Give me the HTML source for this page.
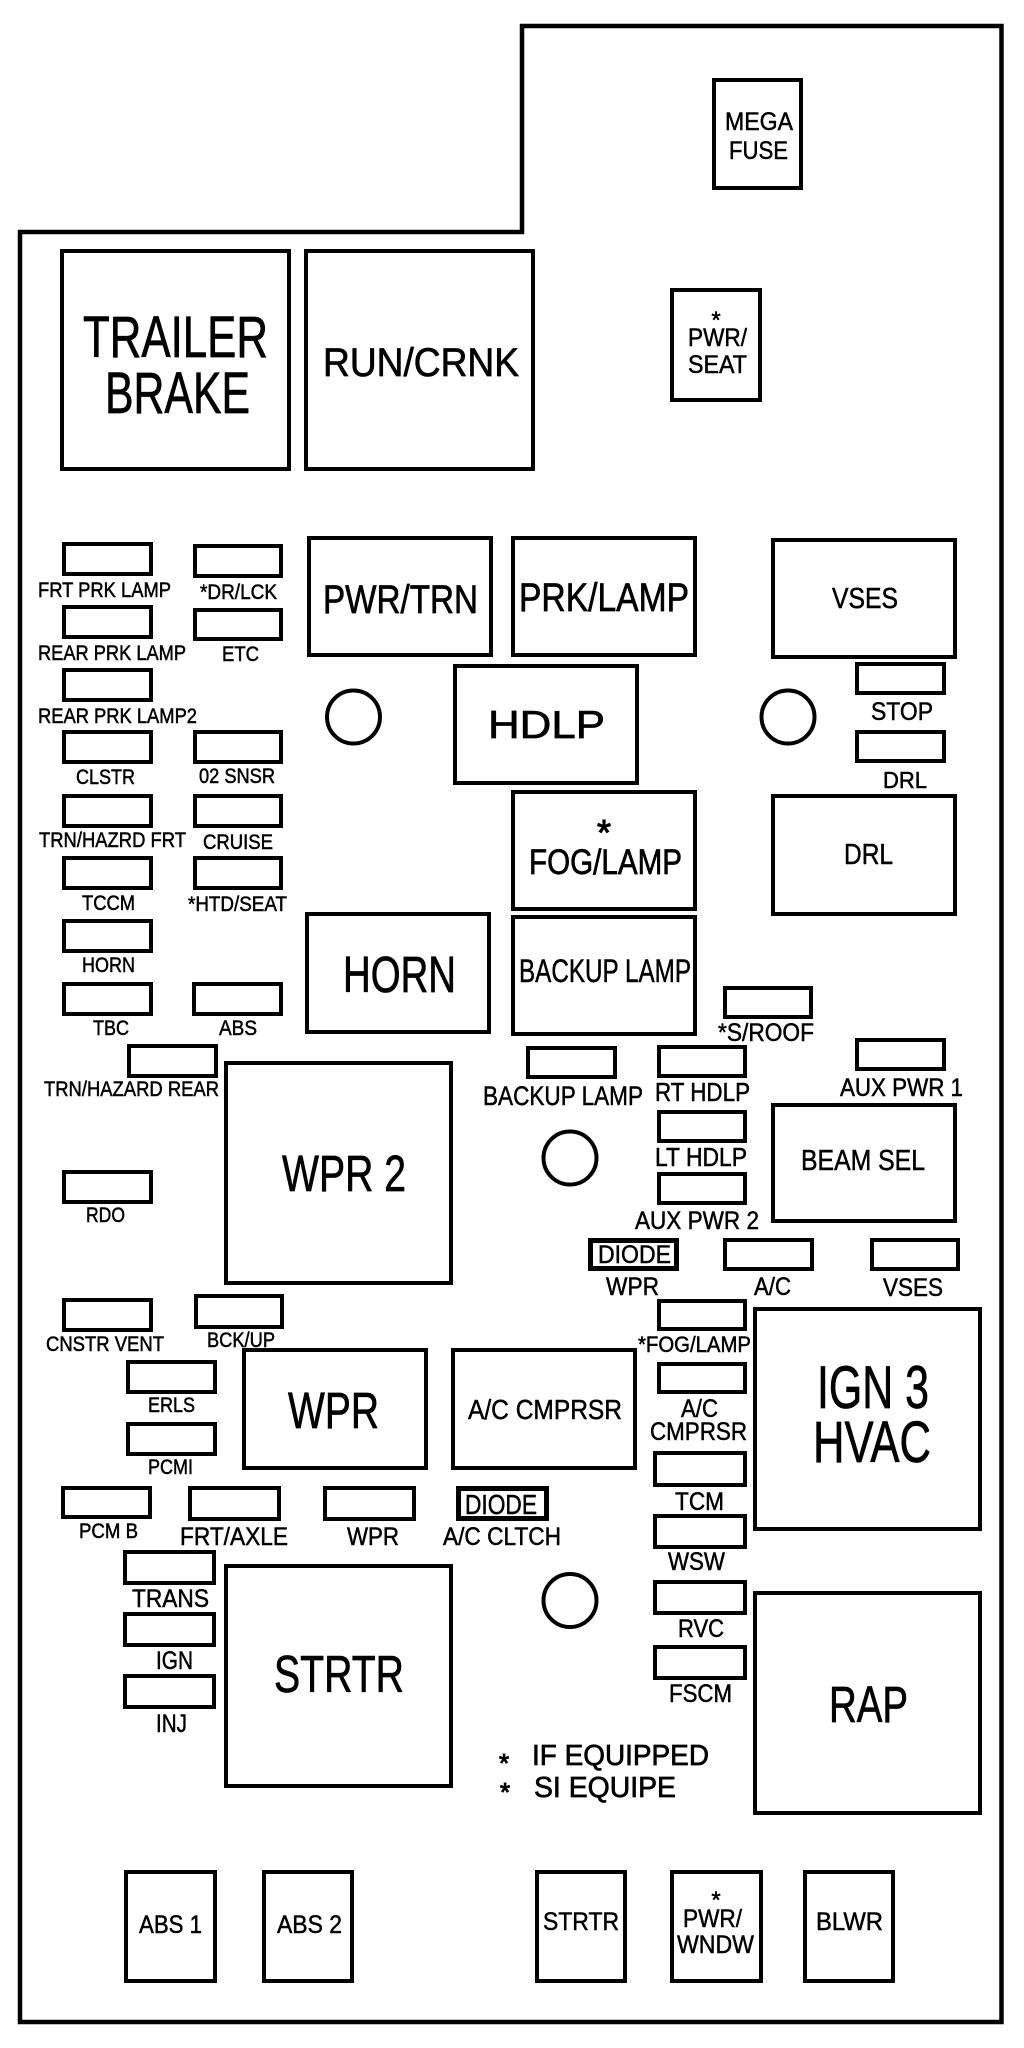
<!DOCTYPE html>
<html><head><meta charset="utf-8"><title>Fuse block</title>
<style>
html,body{margin:0;padding:0;background:#fff}
svg{display:block}
text{font-family:"Liberation Sans",sans-serif;fill:#000;stroke:#000;stroke-width:.7px}
rect,circle,path{fill:none;stroke:#000;stroke-width:4}
.s text{stroke-width:.5px}
text.a{stroke-width:1px}
.d{stroke-width:5}
</style></head><body>
<svg width="1024" height="2048" viewBox="0 0 1024 2048" xmlns="http://www.w3.org/2000/svg">
<path d="M20 232H522V26H1001.5V2022H20Z" style="stroke-width:4.5"/>
<circle cx="353.5" cy="717" r="26.5"/><circle cx="788" cy="717" r="26.5"/><circle cx="570" cy="1158" r="26.5"/><circle cx="570" cy="1600.5" r="26.5"/>
<!-- relays -->
<rect x="62" y="251" width="227" height="218"/><rect x="306" y="251" width="227" height="218"/>
<rect x="714" y="80" width="87" height="108"/><rect x="672" y="290" width="88" height="110"/>
<rect x="309" y="538" width="182" height="117"/><rect x="513" y="538" width="182" height="117"/><rect x="773" y="540" width="182" height="117"/>
<rect x="455" y="666" width="182" height="117"/><rect x="513" y="792" width="182" height="117"/><rect x="773" y="796" width="182" height="118"/>
<rect x="307" y="914" width="182" height="118"/><rect x="513" y="917" width="182" height="117"/>
<rect x="226" y="1063" width="225" height="220"/><rect x="773" y="1105" width="182" height="116"/>
<rect x="244" y="1350" width="182" height="118"/><rect x="453" y="1350" width="182" height="118"/>
<rect x="755" y="1309" width="225" height="220"/><rect x="226" y="1566" width="225" height="220"/><rect x="755" y="1593" width="225" height="220"/>
<rect x="126" y="1872" width="89" height="109"/><rect x="264" y="1872" width="88" height="109"/><rect x="537" y="1872" width="88" height="109"/><rect x="672" y="1872" width="89" height="109"/><rect x="805" y="1872" width="88" height="109"/>
<!-- fuses left -->
<rect x="64" y="544" width="87" height="30"/><rect x="195" y="546" width="86" height="30"/>
<rect x="64" y="607" width="87" height="30"/><rect x="195" y="610" width="86" height="29"/>
<rect x="64" y="670" width="87" height="30"/>
<rect x="64" y="732" width="87" height="30"/><rect x="195" y="732" width="86" height="30"/>
<rect x="64" y="796" width="87" height="30"/><rect x="195" y="796" width="86" height="30"/>
<rect x="64" y="858" width="87" height="30"/><rect x="195" y="858" width="86" height="30"/>
<rect x="64" y="921" width="87" height="30"/>
<rect x="64" y="984" width="87" height="30"/><rect x="194" y="984" width="87" height="30"/>
<rect x="129" y="1046" width="87" height="30"/><rect x="64" y="1172" width="87" height="30"/>
<rect x="64" y="1300" width="87" height="30"/><rect x="196" y="1296" width="86" height="31"/>
<rect x="128" y="1362" width="87" height="30"/><rect x="128" y="1424" width="87" height="30"/>
<rect x="63" y="1488" width="87" height="29"/><rect x="190" y="1488" width="89" height="31"/><rect x="325" y="1488" width="89" height="31"/>
<rect class="d" x="458.5" y="1488.5" width="88" height="30"/>
<rect x="125" y="1552" width="89" height="31"/><rect x="125" y="1614" width="89" height="31"/><rect x="125" y="1676" width="89" height="31"/>
<!-- fuses right -->
<rect x="857" y="664" width="87" height="29"/><rect x="857" y="732" width="87" height="29"/>
<rect x="725" y="988" width="86" height="29"/><rect x="857" y="1040" width="87" height="29"/>
<rect x="528" y="1048" width="87" height="29"/><rect x="659" y="1047" width="86" height="29"/>
<rect x="659" y="1112" width="86" height="29"/><rect x="659" y="1174" width="86" height="29"/>
<rect class="d" x="590.5" y="1240.5" width="86" height="28"/>
<rect x="725" y="1240" width="87" height="29"/><rect x="872" y="1240" width="86" height="29"/>
<rect x="659" y="1301" width="86" height="28"/><rect x="659" y="1364" width="86" height="28"/>
<rect x="655" y="1453" width="90" height="32"/><rect x="655" y="1516" width="90" height="31"/><rect x="655" y="1582" width="90" height="31"/><rect x="655" y="1647" width="90" height="31"/>
<!-- relay labels -->
<text x="83" y="357" font-size="58" textLength="185" lengthAdjust="spacingAndGlyphs">TRAILER</text>
<text x="105" y="413" font-size="58" textLength="145" lengthAdjust="spacingAndGlyphs">BRAKE</text>
<text x="323" y="376" font-size="40" textLength="196" lengthAdjust="spacingAndGlyphs">RUN/CRNK</text>
<text x="323" y="613" font-size="40" textLength="155" lengthAdjust="spacingAndGlyphs">PWR/TRN</text>
<text x="519" y="611" font-size="40" textLength="170" lengthAdjust="spacingAndGlyphs">PRK/LAMP</text>
<text x="488" y="738" font-size="39" textLength="117" lengthAdjust="spacingAndGlyphs">HDLP</text>
<text class="a" x="604" y="845" font-size="36" text-anchor="middle">*</text>
<text x="529" y="874" font-size="35" textLength="153" lengthAdjust="spacingAndGlyphs">FOG/LAMP</text>
<text x="343" y="992" font-size="51" textLength="113" lengthAdjust="spacingAndGlyphs">HORN</text>
<text x="282" y="1191" font-size="51" textLength="124" lengthAdjust="spacingAndGlyphs">WPR 2</text>
<text x="288" y="1428" font-size="51" textLength="91" lengthAdjust="spacingAndGlyphs">WPR</text>
<text x="817" y="1408" font-size="60" textLength="112" lengthAdjust="spacingAndGlyphs">IGN 3</text>
<text x="813" y="1462" font-size="58" textLength="118" lengthAdjust="spacingAndGlyphs">HVAC</text>
<text x="274" y="1692" font-size="52" textLength="130" lengthAdjust="spacingAndGlyphs">STRTR</text>
<text x="829" y="1722" font-size="51" textLength="79" lengthAdjust="spacingAndGlyphs">RAP</text>
<text x="532" y="1765" font-size="29" textLength="177" lengthAdjust="spacingAndGlyphs">IF EQUIPPED</text>
<text x="534" y="1797" font-size="29" textLength="142" lengthAdjust="spacingAndGlyphs">SI EQUIPE</text>
<text class="a" x="504" y="1772" font-size="26" text-anchor="middle">*</text>
<text class="a" x="505" y="1801" font-size="26" text-anchor="middle">*</text>
<g class="s">
<text x="832" y="608" font-size="29" textLength="66" lengthAdjust="spacingAndGlyphs">VSES</text>
<text x="844" y="864" font-size="29" textLength="49" lengthAdjust="spacingAndGlyphs">DRL</text>
<text x="519" y="982" font-size="32" textLength="172" lengthAdjust="spacingAndGlyphs">BACKUP LAMP</text>
<text x="801" y="1170" font-size="29" textLength="124" lengthAdjust="spacingAndGlyphs">BEAM SEL</text>
<text x="468" y="1419" font-size="28" textLength="154" lengthAdjust="spacingAndGlyphs">A/C CMPRSR</text>
<text x="725" y="130" font-size="25" textLength="68" lengthAdjust="spacingAndGlyphs">MEGA</text>
<text x="729" y="159" font-size="25" textLength="59" lengthAdjust="spacingAndGlyphs">FUSE</text>
<text x="716" y="328" font-size="24" text-anchor="middle">*</text>
<text x="688" y="346" font-size="25" textLength="59" lengthAdjust="spacingAndGlyphs">PWR/</text>
<text x="688" y="373" font-size="25" textLength="59" lengthAdjust="spacingAndGlyphs">SEAT</text>
<text x="139" y="1933" font-size="25" textLength="63" lengthAdjust="spacingAndGlyphs">ABS 1</text>
<text x="277" y="1933" font-size="25" textLength="65" lengthAdjust="spacingAndGlyphs">ABS 2</text>
<text x="543" y="1930" font-size="25" textLength="76" lengthAdjust="spacingAndGlyphs">STRTR</text>
<text x="716" y="1908" font-size="24" text-anchor="middle">*</text>
<text x="683" y="1927" font-size="25" textLength="59" lengthAdjust="spacingAndGlyphs">PWR/</text>
<text x="677" y="1953" font-size="25" textLength="77" lengthAdjust="spacingAndGlyphs">WNDW</text>
<text x="816" y="1930" font-size="25" textLength="67" lengthAdjust="spacingAndGlyphs">BLWR</text>
</g>
<!-- fuse labels -->
<g class="s" font-size="21">
<text x="38" y="597" textLength="133" lengthAdjust="spacingAndGlyphs">FRT PRK LAMP</text>
<text x="200" y="599" textLength="77" lengthAdjust="spacingAndGlyphs">*DR/LCK</text>
<text x="38" y="660" textLength="148" lengthAdjust="spacingAndGlyphs">REAR PRK LAMP</text>
<text x="222" y="661" textLength="37" lengthAdjust="spacingAndGlyphs">ETC</text>
<text x="38" y="723" textLength="159" lengthAdjust="spacingAndGlyphs">REAR PRK LAMP2</text>
<text x="76" y="784" textLength="59" lengthAdjust="spacingAndGlyphs">CLSTR</text>
<text x="199" y="783" textLength="76" lengthAdjust="spacingAndGlyphs">02 SNSR</text>
<text x="39" y="847" textLength="147" lengthAdjust="spacingAndGlyphs">TRN/HAZRD FRT</text>
<text x="203" y="849" textLength="70" lengthAdjust="spacingAndGlyphs">CRUISE</text>
<text x="82" y="910" textLength="53" lengthAdjust="spacingAndGlyphs">TCCM</text>
<text x="188" y="911" textLength="99" lengthAdjust="spacingAndGlyphs">*HTD/SEAT</text>
<text x="82" y="972" textLength="53" lengthAdjust="spacingAndGlyphs">HORN</text>
<text x="93" y="1035" textLength="36" lengthAdjust="spacingAndGlyphs">TBC</text>
<text x="219" y="1035" textLength="38" lengthAdjust="spacingAndGlyphs">ABS</text>
<text x="44" y="1096" textLength="175" lengthAdjust="spacingAndGlyphs">TRN/HAZARD REAR</text>
<text x="86" y="1222" textLength="39" lengthAdjust="spacingAndGlyphs">RDO</text>
<text x="46" y="1351" textLength="118" lengthAdjust="spacingAndGlyphs">CNSTR VENT</text>
<text x="207" y="1347" textLength="68" lengthAdjust="spacingAndGlyphs">BCK/UP</text>
<text x="148" y="1412" textLength="47" lengthAdjust="spacingAndGlyphs">ERLS</text>
<text x="148" y="1474" textLength="45" lengthAdjust="spacingAndGlyphs">PCMI</text>
<text x="79" y="1538" textLength="59" lengthAdjust="spacingAndGlyphs">PCM B</text>
<text x="638" y="1352" font-size="22" textLength="113" lengthAdjust="spacingAndGlyphs">*FOG/LAMP</text>
</g>
<g class="s" font-size="25">
<text x="180" y="1545" textLength="108" lengthAdjust="spacingAndGlyphs">FRT/AXLE</text>
<text x="347" y="1545" textLength="52" lengthAdjust="spacingAndGlyphs">WPR</text>
<text x="443" y="1545" textLength="118" lengthAdjust="spacingAndGlyphs">A/C CLTCH</text>
<text x="465" y="1514" font-size="28" textLength="72" lengthAdjust="spacingAndGlyphs">DIODE</text>
<text x="132" y="1607" textLength="77" lengthAdjust="spacingAndGlyphs">TRANS</text>
<text x="156" y="1669" textLength="37" lengthAdjust="spacingAndGlyphs">IGN</text>
<text x="156" y="1732" textLength="31" lengthAdjust="spacingAndGlyphs">INJ</text>
<text x="871" y="720" textLength="62" lengthAdjust="spacingAndGlyphs">STOP</text>
<text x="883" y="788" font-size="23" textLength="44" lengthAdjust="spacingAndGlyphs">DRL</text>
<text x="718" y="1041" textLength="96" lengthAdjust="spacingAndGlyphs">*S/ROOF</text>
<text x="840" y="1096" textLength="123" lengthAdjust="spacingAndGlyphs">AUX PWR 1</text>
<text x="483" y="1105" font-size="27" textLength="160" lengthAdjust="spacingAndGlyphs">BACKUP LAMP</text>
<text x="655" y="1101" font-size="26" textLength="95" lengthAdjust="spacingAndGlyphs">RT HDLP</text>
<text x="655" y="1166" font-size="26" textLength="92" lengthAdjust="spacingAndGlyphs">LT HDLP</text>
<text x="635" y="1229" textLength="124" lengthAdjust="spacingAndGlyphs">AUX PWR 2</text>
<text x="598" y="1263" textLength="73" lengthAdjust="spacingAndGlyphs">DIODE</text>
<text x="606" y="1295" textLength="53" lengthAdjust="spacingAndGlyphs">WPR</text>
<text x="754" y="1295" textLength="37" lengthAdjust="spacingAndGlyphs">A/C</text>
<text x="883" y="1296" textLength="60" lengthAdjust="spacingAndGlyphs">VSES</text>
<text x="681" y="1417" textLength="37" lengthAdjust="spacingAndGlyphs">A/C</text>
<text x="650" y="1440" textLength="97" lengthAdjust="spacingAndGlyphs">CMPRSR</text>
<text x="675" y="1510" textLength="49" lengthAdjust="spacingAndGlyphs">TCM</text>
<text x="668" y="1570" textLength="57" lengthAdjust="spacingAndGlyphs">WSW</text>
<text x="678" y="1637" textLength="46" lengthAdjust="spacingAndGlyphs">RVC</text>
<text x="669" y="1702" textLength="63" lengthAdjust="spacingAndGlyphs">FSCM</text>
</g>
</svg>
</body></html>
